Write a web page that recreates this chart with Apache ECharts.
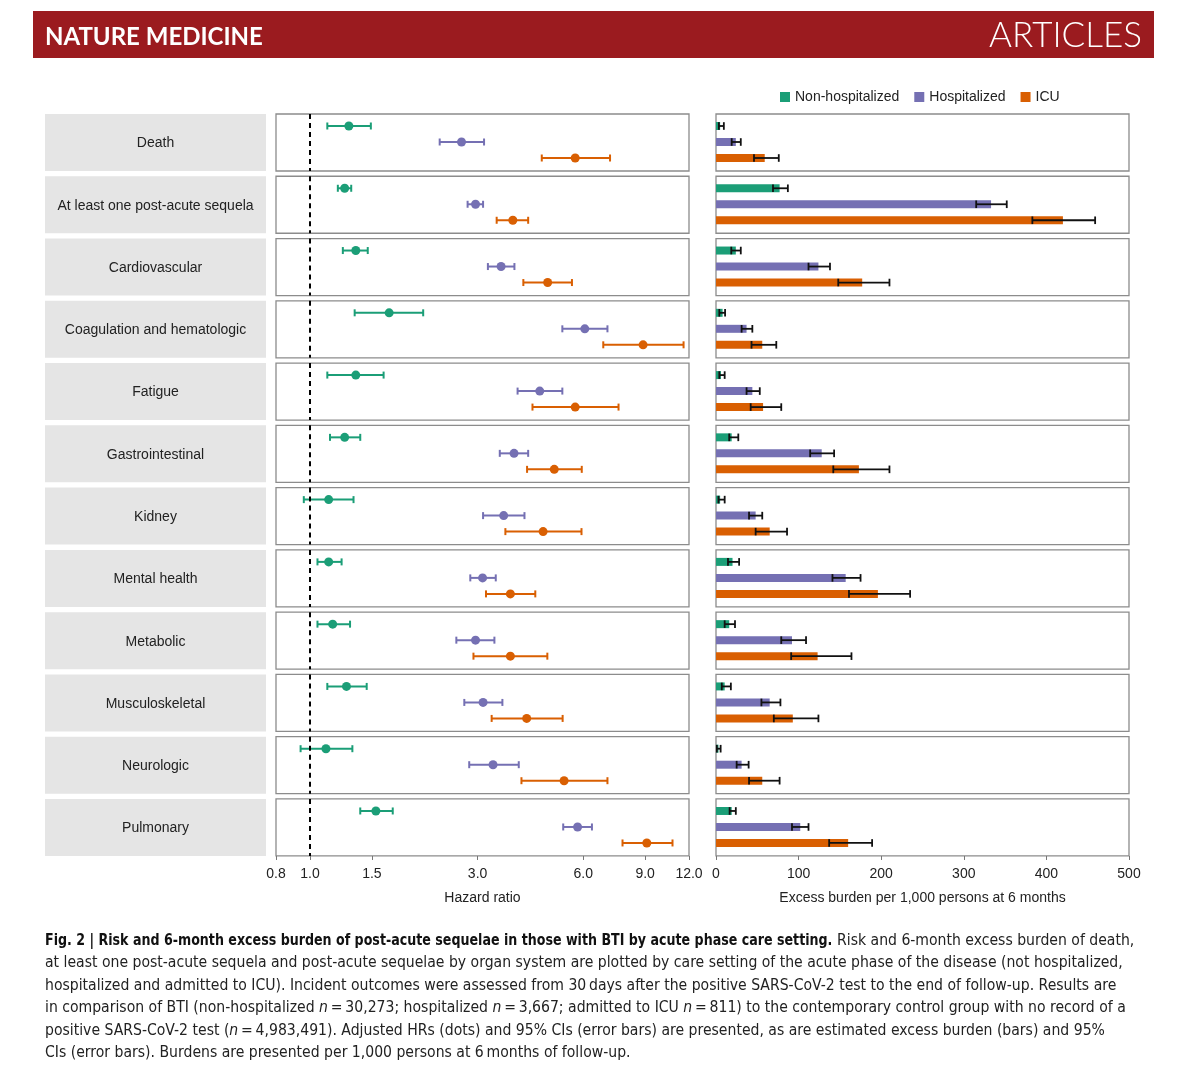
<!DOCTYPE html>
<html><head><meta charset="utf-8">
<script src="https://cdn.jsdelivr.net/npm/echarts@6/dist/echarts.min.js"></script>
<style>html,body{margin:0;padding:0;background:#fff}#c{width:1200px;height:1085px}</style>
</head><body><div id="c"></div><script>
// ---------- data ----------
const categories = ['Death','At least one post-acute sequela','Cardiovascular','Coagulation and hematologic','Fatigue','Gastrointestinal','Kidney','Mental health','Metabolic','Musculoskeletal','Neurologic','Pulmonary'];
const groups = ['Non-hospitalized','Hospitalized','ICU'];

// hazard ratios (dot) and 95% CI
const hrNonHosp   = [1.29,1.255,1.35,1.68,1.35,1.255,1.13,1.13,1.16,1.27,1.11,1.54];
const hrNonHospLo = [1.12,1.20,1.24,1.34,1.12,1.14,0.96,1.05,1.05,1.12,0.94,1.39];
const hrNonHospHi = [1.49,1.31,1.46,2.10,1.62,1.39,1.33,1.23,1.30,1.45,1.32,1.72];
const hrHosp      = [2.70,2.96,3.50,6.06,4.51,3.81,3.56,3.10,2.96,3.11,3.32,5.78];
const hrHospLo    = [2.34,2.81,3.21,5.23,3.90,3.47,3.11,2.86,2.61,2.75,2.84,5.26];
const hrHospHi    = [3.13,3.11,3.82,7.03,5.23,4.18,4.08,3.38,3.35,3.53,3.93,6.35];
const hrIcu       = [5.69,3.78,4.75,8.88,5.69,4.96,4.61,3.72,3.72,4.14,5.29,9.10];
const hrIcuLo     = [4.57,3.40,4.05,6.84,4.30,4.15,3.60,3.17,2.92,3.29,4.00,7.76];
const hrIcuHi     = [7.15,4.18,5.57,11.58,7.56,5.94,5.93,4.38,4.74,5.24,7.03,10.77];

// excess burden per 1,000 persons at 6 months and 95% CI
const ebNonHosp   = [5,77,24,8,6,19,5,20,16,10.5,3,19];
const ebNonHospLo = [3.5,69,18.5,4,4,16,3,14.5,10.5,7,1,16.5];
const ebNonHospHi = [9.5,87,30,11,10.5,27,10.5,28,23,18,5.6,24];
const ebHosp      = [24,333,124,37,44,128,48,157,92,65,31,102];
const ebHospLo    = [19,315,112,31,37,114,40,141,79,55,25,92];
const ebHospHi    = [30,352,138,44,53,143,56,175,109,78,39.5,112];
const ebIcu       = [59,420,177,56,57,173,65,196,123,93,56,160];
const ebIcuLo     = [46,383,148,43,42,142,48,161,91,70,40,137];
const ebIcuHi     = [76,459,210,73,79,210,86,235,164,124,77,189];

const hrTicks = [0.8,1.0,1.5,3.0,6.0,9.0,12.0];
const ebTicks = [0,100,200,300,400,500];

// ---------- layout / style ----------
const COLORS = ['#1b9e77','#7570b3','#d95f02'];
const FONT = "'Liberation Sans', Arial, sans-serif";
const ROW_TOP = 114, ROW_PITCH = 62.27, ROW_H = 57;
const hrSets = [[hrNonHosp,hrNonHospLo,hrNonHospHi],[hrHosp,hrHospLo,hrHospHi],[hrIcu,hrIcuLo,hrIcuHi]];
const ebSets = [[ebNonHosp,ebNonHospLo,ebNonHospHi],[ebHosp,ebHospLo,ebHospHi],[ebIcu,ebIcuLo,ebIcuHi]];

const grid=[], xAxis=[], yAxis=[], series=[], graphic=[];

function errRender(color, lw, cap){
  return function(params, api){
    const y = api.value(2);
    const p1 = api.coord([api.value(0), y]);
    const p2 = api.coord([api.value(1), y]);
    const st = {stroke: color, lineWidth: lw};
    return {type:'group', children:[
      {type:'line', shape:{x1:p1[0],y1:p1[1],x2:p2[0],y2:p2[1]}, style:st},
      {type:'line', shape:{x1:p1[0],y1:p1[1]-cap,x2:p1[0],y2:p1[1]+cap}, style:st},
      {type:'line', shape:{x1:p2[0],y1:p2[1]-cap,x2:p2[0],y2:p2[1]+cap}, style:st}
    ]};
  };
}
function barRender(color){
  return function(params, api){
    const y = api.value(3);
    const p0 = api.coord([0, y]);
    const pe = api.coord([api.value(0), y]);
    const pl = api.coord([api.value(1), y]);
    const ph = api.coord([api.value(2), y]);
    const st = {stroke:'#111', lineWidth:1.8};
    const cap = 3.8;
    return {type:'group', children:[
      {type:'rect', shape:{x:p0[0], y:p0[1]-4, width:pe[0]-p0[0], height:8}, style:{fill:color}},
      {type:'line', shape:{x1:pl[0],y1:pl[1],x2:ph[0],y2:ph[1]}, style:st},
      {type:'line', shape:{x1:pl[0],y1:pl[1]-cap,x2:pl[0],y2:pl[1]+cap}, style:st},
      {type:'line', shape:{x1:ph[0],y1:ph[1]-cap,x2:ph[0],y2:ph[1]+cap}, style:st}
    ]};
  };
}

categories.forEach((cat, i) => {
  const top = ROW_TOP + i*ROW_PITCH;
  const last = i === categories.length - 1;
  const fi = 2*i, bi = 2*i + 1;
  const gridBase = {top, width:413, height:ROW_H, show:true, borderColor:'#8c8c8c', borderWidth:1.3, backgroundColor:'#fff'};
  grid.push(Object.assign({left:276}, gridBase));
  grid.push(Object.assign({left:716}, gridBase));

  xAxis.push({
    gridIndex: fi, type:'log', min:0.8, max:12,
    axisLine:{show:false}, splitLine:{show:false},
    axisTick:{show:last, customValues:hrTicks, length:4, lineStyle:{color:'#777', width:1}},
    axisLabel:{show:last, customValues:hrTicks, margin:11, color:'#222', fontSize:14, fontFamily:FONT,
      formatter: v => (+v).toFixed(1)},
    name: last ? 'Hazard ratio' : '', nameLocation:'middle', nameGap:35,
    nameTextStyle:{color:'#222', fontSize:14, fontFamily:FONT}
  });
  xAxis.push({
    gridIndex: bi, type:'value', min:0, max:500, interval:100,
    axisLine:{show:false}, splitLine:{show:false},
    axisTick:{show:last, customValues:ebTicks, length:4, lineStyle:{color:'#777', width:1}},
    axisLabel:{show:last, customValues:ebTicks, margin:11, color:'#222', fontSize:14, fontFamily:FONT},
    name: last ? 'Excess burden per 1,000 persons at 6 months' : '', nameLocation:'middle', nameGap:35,
    nameTextStyle:{color:'#222', fontSize:14, fontFamily:FONT}
  });
  yAxis.push({gridIndex:fi, type:'value', min:0.25, max:3.8125, inverse:true, show:false});
  yAxis.push({gridIndex:bi, type:'value', min:0.25, max:3.8125, inverse:true, show:false});

  groups.forEach((g, k) => {
    const [v, lo, hi] = hrSets[k];
    series.push({
      type:'custom', name:g, xAxisIndex:fi, yAxisIndex:fi, itemStyle:{color:COLORS[k]},
      data:[[lo[i], hi[i], k+1]], encode:{x:[0,1], y:2},
      renderItem: errRender(COLORS[k], 2, 3.5), silent:true
    });
    const sc = {
      type:'scatter', name:g, xAxisIndex:fi, yAxisIndex:fi, symbolSize:9,
      itemStyle:{color:COLORS[k], opacity:1}, data:[[v[i], k+1]], silent:true
    };
    if (k === 0) {
      sc.markLine = {silent:true, symbol:['none','none'], label:{show:false},
        lineStyle:{color:'#000', type:[5,4], width:2}, data:[{xAxis:1}]};
    }
    series.push(sc);
    const [bv, blo, bhi] = ebSets[k];
    series.push({
      type:'custom', name:g, xAxisIndex:bi, yAxisIndex:bi, itemStyle:{color:COLORS[k]},
      data:[[bv[i], blo[i], bhi[i], k+1]], encode:{x:[0,1,2], y:3},
      renderItem: barRender(COLORS[k]), silent:true
    });
  });

  // category label box
  graphic.push({type:'rect', shape:{x:45, y:top, width:221, height:ROW_H}, style:{fill:'#e5e5e5'}, silent:true});
  graphic.push({type:'text', x:155.5, y:top + ROW_H/2 + 1, silent:true,
    style:{text:cat, fill:'#222', font:"14px " + FONT, align:'center', verticalAlign:'middle', textAlign:'center', textVerticalAlign:'middle'}});
});

// header band
graphic.push({type:'rect', shape:{x:33, y:11, width:1121, height:47}, style:{fill:'#9b1b1f'}, silent:true});
graphic.push({type:'text', x:45, y:37, silent:true,
  style:{text:'NATURE MEDICINE', fill:'#fff', font:"bold 24px Lato, 'Open Sans', sans-serif", align:'left', verticalAlign:'middle', textAlign:'left', textVerticalAlign:'middle'}});
graphic.push({type:'text', x:1142, y:36, silent:true,
  style:{text:'ARTICLES', fill:'#fff', font:"300 35px Lato, 'Open Sans', sans-serif", align:'right', verticalAlign:'middle', textAlign:'right', textVerticalAlign:'middle'}});

// caption
const CAP_FONT = "'Liberation Sans Narrow','DejaVu Sans Condensed',sans-serif";
const CAP_SIZE = 15.6;
const capRich = {
  r:{fontFamily:CAP_FONT, fontSize:CAP_SIZE, fill:'#222', color:'#222'},
  i:{fontFamily:CAP_FONT, fontSize:CAP_SIZE, fontStyle:'italic', fill:'#222', color:'#222'}
};
function capText(x, y, t, extra){
  graphic.push(Object.assign({type:'text', x, y, silent:true,
    style:{text:t, rich:capRich, font:CAP_SIZE + "px " + CAP_FONT, fill:'#222', align:'left', verticalAlign:'middle', textAlign:'left', textVerticalAlign:'middle'}}, extra || {}));
}
// first line: bold lead-in (condensed) then regular text
graphic.push({type:'text', x:45, y:941, scaleX:0.902, silent:true,
  style:{text:'Fig. 2 | Risk and 6-month excess burden of post-acute sequelae in those with BTI by acute phase care setting.',
    fill:'#111', font:"bold " + CAP_SIZE + "px " + CAP_FONT, align:'left', verticalAlign:'middle', textAlign:'left', textVerticalAlign:'middle'}});
capText(837, 941, '{r|Risk and 6-month excess burden of death,}');
const capLines = [
  '{r|at least one post-acute sequela and post-acute sequelae by organ system are plotted by care setting of the acute phase of the disease (not hospitalized,}',
  '{r|hospitalized and admitted to ICU). Incident outcomes were assessed from 30\u2009days after the positive SARS-CoV-2 test to the end of follow-up. Results are}',
  '{r|in comparison of BTI (non-hospitalized }{i|n}{r|\u2009=\u200930,273; hospitalized }{i|n}{r|\u2009=\u20093,667; admitted to ICU }{i|n}{r|\u2009=\u2009811) to the contemporary control group with no record of a}',
  '{r|positive SARS-CoV-2 test (}{i|n}{r|\u2009=\u20094,983,491). Adjusted HRs (dots) and 95% CIs (error bars) are presented, as are estimated excess burden (bars) and 95%}',
  '{r|CIs (error bars). Burdens are presented per 1,000 persons at 6\u2009months of follow-up.}'
];
capLines.forEach((t, j) => capText(45, 963.4 + j*22.4, t));

const option = {
  animation:false,
  textStyle:{fontFamily:FONT},
  legend:{
    left:780, top:90, padding:0, itemWidth:10, itemHeight:10, itemGap:15, selectedMode:false,
    textStyle:{color:'#222', fontSize:14, fontFamily:FONT},
    data: groups.map((g,k) => ({name:g, icon:'rect', itemStyle:{color:COLORS[k]}}))
  },
  grid, xAxis, yAxis, series, graphic
};
const chart = echarts.init(document.getElementById('c'));
chart.setOption(option);
</script></body></html>
